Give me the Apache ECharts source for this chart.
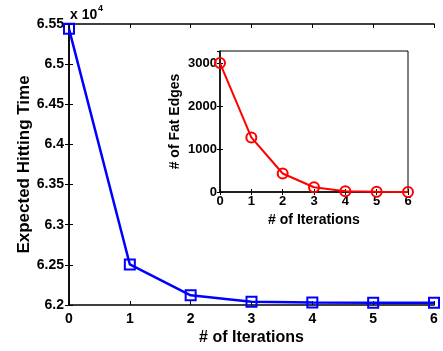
<!DOCTYPE html>
<html>
<head>
<meta charset="utf-8">
<script src="https://cdn.jsdelivr.net/npm/echarts@6/dist/echarts.min.js"></script>
<style>
  html, body { margin: 0; padding: 0; background: #fff; }
  #chart { width: 443px; height: 351px; }
</style>
</head>
<body>
<div id="chart"></div>
<script>
// main plot: expected hitting time per iteration
const iterations = [0, 1, 2, 3, 4, 5, 6];
const hittingTime = [65440, 62505, 62120, 62040, 62030, 62028, 62027];
// inset: number of fat edges per iteration
const fatEdges = [3000, 1270, 430, 110, 20, 5, 0];

const FONT = 'Liberation Sans, Arial, Helvetica, sans-serif';

const chart = echarts.init(document.getElementById('chart'));

const line = { lineStyle: { color: '#000', width: 1.5 } };
const tickIn = (len) => ({ show: true, inside: true, length: len, lineStyle: { color: '#000', width: 1 } });
const label = (size, fmt) => ({
  color: '#000', fontFamily: FONT, fontWeight: 'bold', fontSize: size, margin: 5,
  formatter: fmt || (v => String(v))
});

const option = {
  animation: false,
  backgroundColor: '#fff',
  grid: [
    { left: 69, right: 9, top: 24, bottom: 41, show: false },
    { left: 220, top: 51, width: 188, height: 141, show: true, backgroundColor: '#fff',
      borderColor: '#000', borderWidth: 1, z: 5 }
  ],
  graphic: [
    { type: 'text', left: 70, top: 8, style: { text: 'x 10', fontFamily: FONT, fontWeight: 'bold', fontSize: 14, fill: '#000' } },
    { type: 'text', left: 98, top: 4, style: { text: '4', fontFamily: FONT, fontWeight: 'bold', fontSize: 9, fill: '#000' } }
  ],
  xAxis: [
    {
      gridIndex: 0, type: 'value', min: 0, max: 6, interval: 1,
      name: '# of Iterations', nameLocation: 'middle', nameGap: 25, nameMoveOverlap: false,
      nameTextStyle: { color: '#000', fontFamily: FONT, fontWeight: 'bold', fontSize: 16 },
      axisLine: line, axisTick: tickIn(4), splitLine: { show: false },
      axisLabel: Object.assign(label(14), { margin: 7 })
    },
    {
      gridIndex: 0, type: 'value', position: 'top', min: 0, max: 6, interval: 1,
      axisLine: line, axisTick: tickIn(4), splitLine: { show: false }, axisLabel: { show: false }
    },
    {
      gridIndex: 1, type: 'value', min: 0, max: 6, interval: 1, z: 6,
      name: '# of Iterations', nameLocation: 'middle', nameGap: 21, nameMoveOverlap: false,
      nameTextStyle: { color: '#000', fontFamily: FONT, fontWeight: 'bold', fontSize: 14 },
      axisLine: line, axisTick: tickIn(3), splitLine: { show: false },
      axisLabel: Object.assign(label(13), { margin: 3 })
    },
    {
      gridIndex: 1, type: 'value', position: 'top', min: 0, max: 6, interval: 1, z: 6,
      axisLine: { show: false }, axisTick: tickIn(3), splitLine: { show: false }, axisLabel: { show: false }
    }
  ],
  yAxis: [
    {
      gridIndex: 0, type: 'value', min: 62000, max: 65500, interval: 500,
      name: 'Expected Hitting Time', nameLocation: 'middle', nameGap: 36, nameMoveOverlap: false,
      nameTextStyle: { color: '#000', fontFamily: FONT, fontWeight: 'bold', fontSize: 17 },
      axisLine: line, axisTick: tickIn(4), splitLine: { show: false },
      axisLabel: label(14, v => String(parseFloat((v / 10000).toFixed(2))))
    },
    {
      gridIndex: 0, type: 'value', position: 'right', min: 62000, max: 65500, interval: 500,
      axisLine: line, axisTick: tickIn(4), splitLine: { show: false }, axisLabel: { show: false }
    },
    {
      gridIndex: 1, type: 'value', min: 0, max: 3280, interval: 1000, z: 6,
      name: '# of Fat Edges', nameLocation: 'middle', nameGap: 38, nameMoveOverlap: false,
      nameTextStyle: { color: '#000', fontFamily: FONT, fontWeight: 'bold', fontSize: 14 },
      axisLine: line, axisTick: tickIn(3), splitLine: { show: false },
      axisLabel: Object.assign(label(13), { margin: 3, showMaxLabel: false })
    },
    {
      gridIndex: 1, type: 'value', position: 'right', min: 0, max: 3280, interval: 1000, z: 6,
      axisLine: { show: false }, axisTick: tickIn(3), splitLine: { show: false },
      axisLabel: { show: false }
    }
  ],
  series: [
    {
      type: 'line', xAxisIndex: 0, yAxisIndex: 0,
      data: iterations.map((x, i) => [x, hittingTime[i]]),
      lineStyle: { color: '#0000ff', width: 2.5 },
      symbol: 'rect', symbolSize: 10, showAllSymbol: true,
      itemStyle: { color: 'transparent', borderColor: '#0000ff', borderWidth: 2 },
      clip: false, z: 3
    },
    {
      type: 'line', xAxisIndex: 2, yAxisIndex: 2,
      data: iterations.map((x, i) => [x, fatEdges[i]]),
      lineStyle: { color: '#ff0000', width: 2 },
      symbol: 'circle', symbolSize: 10, showAllSymbol: true,
      itemStyle: { color: 'transparent', borderColor: '#ff0000', borderWidth: 2 },
      clip: false, z: 7
    }
  ]
};

chart.setOption(option);
</script>
</body>
</html>
